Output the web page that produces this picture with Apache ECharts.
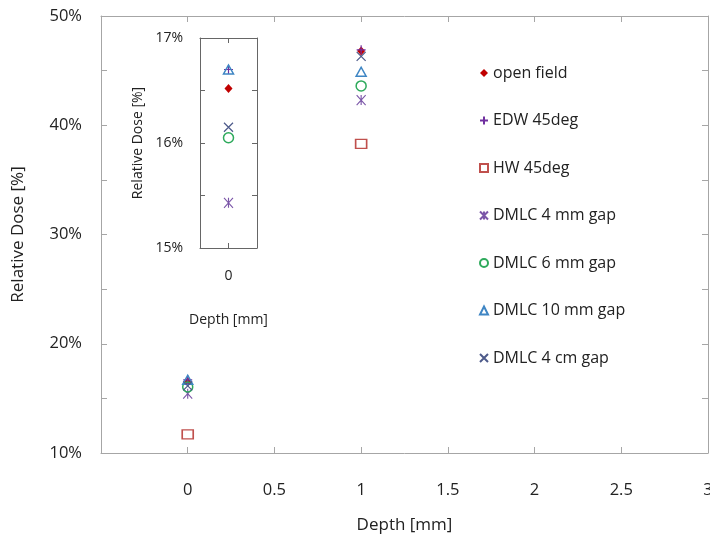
<!DOCTYPE html>
<html>
<head>
<meta charset="utf-8">
<style>
  html, body { margin: 0; padding: 0; background: #fff; }
  #chart { width: 710px; height: 542px; }
</style>
<script src="https://cdn.jsdelivr.net/npm/echarts@6/dist/echarts.min.js"></script>
</head>
<body>
<div id="chart"></div>
<script>
// depth positions and relative dose (%)
const depths = [0, 1];
const seriesNames = ['open field', 'EDW 45deg', 'HW 45deg', 'DMLC 4 mm gap', 'DMLC 6 mm gap', 'DMLC 10 mm gap', 'DMLC 4 cm gap'];
const openField = [16.52, 46.8];
const edw45 = [16.70, 46.9];
const hw45 = [11.7, 38.3];
const dmlc4mm = [15.43, 42.3];
const dmlc6mm = [16.05, 43.6];
const dmlc10mm = [16.70, 44.9];
const dmlc4cm = [16.15, 46.3];

const values = [openField, edw45, hw45, dmlc4mm, dmlc6mm, dmlc10mm, dmlc4cm];

// marker look per series
const markers = [
  { symbol: 'diamond', size: [8, 9], fill: '#C00000', stroke: '#C00000', bw: 0 },
  { symbol: 'path://M0,5L10,5M5,0L5,10', size: 9, fill: 'transparent', stroke: '#7030A0', bw: 1.2 },
  { symbol: 'rect', size: [11, 9], fill: 'transparent', stroke: '#C0504D', bw: 1.5 },
  { symbol: 'path://M0,0L10,10M10,0L0,10M5,0L5,10', size: [9, 10], fill: 'transparent', stroke: '#7B56A8', bw: 1.2 },
  { symbol: 'circle', size: 10, fill: 'transparent', stroke: '#2EAA5C', bw: 1.5 },
  { symbol: 'triangle', size: [10, 9], fill: 'transparent', stroke: '#3F86C4', bw: 1.5 },
  { symbol: 'path://M0,0L10,10M10,0L0,10', size: 9, fill: 'transparent', stroke: '#4D5A8A', bw: 1.2 }
];

const font = '"Open Sans", sans-serif';
const mainAxisColor = '#A6A6A6';
const insetAxisColor = '#666';

function mkSeries(i, grid) {
  const m = markers[i];
  let data = depths.map((d, k) => [d, values[i][k]]);
  if (grid === 1) data = data.filter(p => p[0] === 0);
  return {
    name: seriesNames[i],
    type: 'scatter',
    xAxisIndex: grid === 0 ? 0 : 2,
    yAxisIndex: grid === 0 ? 0 : 2,
    clip: true,
    symbol: m.symbol,
    symbolSize: m.size,
    symbolKeepAspect: true,
    itemStyle: { color: m.fill, borderColor: m.stroke, borderWidth: m.bw, opacity: 1 },
    data
  };
}

const series = [];
seriesNames.forEach((_, i) => series.push(mkSeries(i, 0)));
seriesNames.forEach((_, i) => series.push(mkSeries(i, 1)));

const chart = echarts.init(document.getElementById('chart'), null, { renderer: 'canvas' });

chart.setOption({
  animation: false,
  textStyle: { fontFamily: font },
  grid: [
    { left: 101, top: 16, right: 2, bottom: 89, outerBoundsMode: 'none', containLabel: false },
    { left: 200, top: 38, width: 57, height: 210, backgroundColor: '#fff', show: true, borderWidth: 0, outerBoundsMode: 'none' }
  ],
  legend: {
    orient: 'vertical',
    left: 474,
    top: 58,
    itemWidth: 8,
    itemHeight: 8,
    itemGap: 27.5,
    data: seriesNames,
    textStyle: { fontFamily: font, fontSize: 16, color: '#222', lineHeight: 20 }
  },
  xAxis: [
    {
      gridIndex: 0, type: 'value', min: -0.5, max: 3, interval: 0.5,
      name: 'Depth [mm]', nameLocation: 'middle', nameGap: 64,
      nameTextStyle: { fontSize: 17, color: '#222' },
      axisLine: { lineStyle: { color: mainAxisColor } },
      axisTick: { inside: true, length: 6, lineStyle: { color: mainAxisColor } },
      axisLabel: { fontSize: 16.5, color: '#222', margin: 29, formatter: v => (v < 0 ? '' : String(v)) },
      splitLine: { show: false }
    },
    {
      gridIndex: 0, type: 'value', position: 'top', min: -0.5, max: 3, interval: 0.5,
      axisLine: { lineStyle: { color: mainAxisColor } },
      axisTick: { inside: true, length: 6, lineStyle: { color: mainAxisColor } },
      axisLabel: { show: false },
      splitLine: { show: false }
    },
    {
      gridIndex: 1, type: 'value', min: -0.5, max: 0.5, interval: 0.5,
      name: 'Depth [mm]', nameLocation: 'middle', nameGap: 65,
      nameTextStyle: { fontSize: 14, color: '#222' },
      axisLine: { onZero: false, lineStyle: { color: insetAxisColor } },
      axisTick: { inside: true, length: 5, lineStyle: { color: insetAxisColor } },
      axisLabel: { fontSize: 14, color: '#222', margin: 21, formatter: v => (v === 0 ? '0' : '') },
      splitLine: { show: false }
    },
    {
      gridIndex: 1, type: 'value', position: 'top', min: -0.5, max: 0.5, interval: 0.5,
      axisLine: { onZero: false, lineStyle: { color: insetAxisColor } },
      axisTick: { inside: true, length: 5, lineStyle: { color: insetAxisColor } },
      axisLabel: { show: false },
      splitLine: { show: false }
    }
  ],
  yAxis: [
    {
      gridIndex: 0, type: 'value', min: 10, max: 50, interval: 5,
      name: 'Relative Dose [%]', nameLocation: 'middle', nameGap: 74,
      nameTextStyle: { fontSize: 17, color: '#222' },
      axisLine: { show: true, onZero: false, lineStyle: { color: mainAxisColor } },
      axisTick: { show: true, inside: true, length: 6, lineStyle: { color: mainAxisColor } },
      axisLabel: { fontSize: 16.5, color: '#222', margin: 19, formatter: v => (v % 10 === 0 ? v + '%' : '') },
      splitLine: { show: false }
    },
    {
      gridIndex: 0, type: 'value', position: 'right', min: 10, max: 50, interval: 5,
      axisLine: { show: true, onZero: false, lineStyle: { color: mainAxisColor } },
      axisTick: { show: true, inside: true, length: 6, lineStyle: { color: mainAxisColor } },
      axisLabel: { show: false },
      splitLine: { show: false }
    },
    {
      gridIndex: 1, type: 'value', min: 15, max: 17, interval: 0.5,
      name: 'Relative Dose [%]', nameLocation: 'middle', nameGap: 55,
      nameTextStyle: { fontSize: 14, color: '#222' },
      axisLine: { show: true, onZero: false, lineStyle: { color: insetAxisColor } },
      axisTick: { show: true, inside: true, length: 5, lineStyle: { color: insetAxisColor } },
      axisLabel: { fontSize: 14, color: '#222', margin: 17, formatter: v => (Number.isInteger(v) ? v + '%' : '') },
      splitLine: { show: false }
    },
    {
      gridIndex: 1, type: 'value', position: 'right', min: 15, max: 17, interval: 0.5,
      axisLine: { show: true, onZero: false, lineStyle: { color: insetAxisColor } },
      axisTick: { show: true, inside: true, length: 5, lineStyle: { color: insetAxisColor } },
      axisLabel: { show: false },
      splitLine: { show: false }
    }
  ],
  series
});
</script>
</body>
</html>
